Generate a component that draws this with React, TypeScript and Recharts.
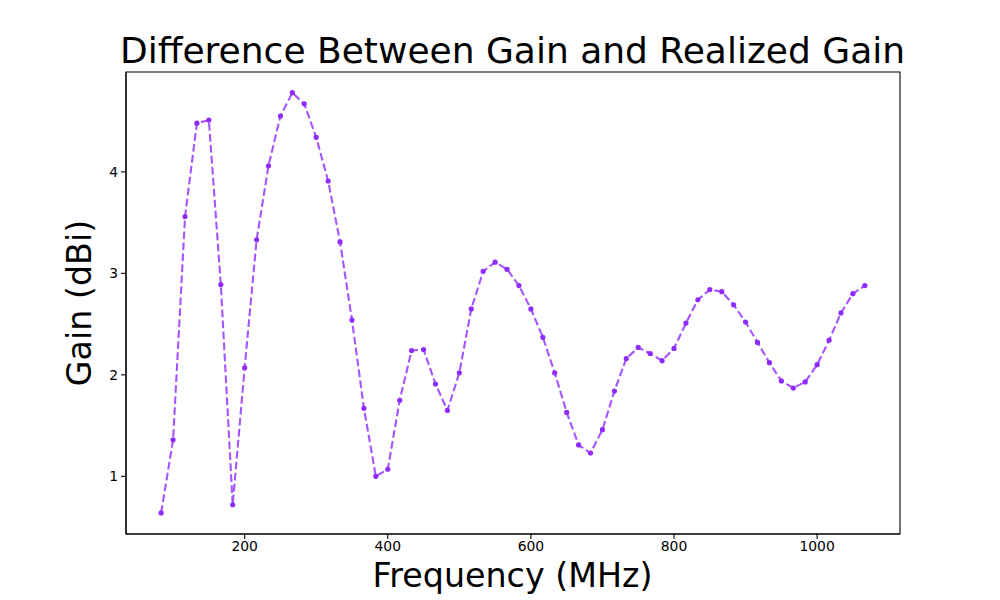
import { LineChart, Line, XAxis, YAxis, ReferenceArea } from "recharts";

// frequencies in MHz
const FREQS = [
  83.3, 100, 116.7, 133.3, 150, 166.7, 183.3, 200, 216.7, 233.3,
  250, 266.7, 283.3, 300, 316.7, 333.3, 350, 366.7, 383.3, 400,
  416.7, 433.3, 450, 466.7, 483.3, 500, 516.7, 533.3, 550, 566.7,
  583.3, 600, 616.7, 633.3, 650, 666.7, 683.3, 700, 716.7, 733.3,
  750, 766.7, 783.3, 800, 816.7, 833.3, 850, 866.7, 883.3, 900,
  916.7, 933.3, 950, 966.7, 983.3, 1000, 1016.7, 1033.3, 1050, 1066.7,
];

// gain difference (dBi)
const GAIN_DIFF = [
  0.64, 1.36, 3.56, 4.48, 4.51, 2.89, 0.72, 2.07, 3.33, 4.06,
  4.55, 4.78, 4.67, 4.34, 3.91, 3.31, 2.54, 1.67, 1.0, 1.07,
  1.75, 2.24, 2.25, 1.91, 1.65, 2.02, 2.65, 3.02, 3.11, 3.04,
  2.88, 2.65, 2.37, 2.02, 1.63, 1.31, 1.23, 1.46, 1.84, 2.16,
  2.27, 2.21, 2.14, 2.26, 2.51, 2.74, 2.84, 2.82, 2.69, 2.52,
  2.32, 2.12, 1.94, 1.87, 1.93, 2.1, 2.34, 2.61, 2.8, 2.88,
];

const X_TICKS = [200, 400, 600, 800, 1000];
const Y_TICKS = [1, 2, 3, 4];

const X_DOMAIN: [number, number] = [34.2, 1115.8];
const Y_DOMAIN: [number, number] = [0.432, 4.984];

const data = FREQS.map((f, i) => ({ freq: f, gain: GAIN_DIFF[i] }));

const FONT = "'DejaVu Sans', sans-serif";
const PURPLE = "#8f2bff";

export default function App() {
  return (
    <div
      style={{
        position: "absolute",
        left: 0,
        top: 0,
        width: 1000,
        height: 600,
        background: "#fff",
        fontFamily: FONT,
      }}
    >
      <div
        style={{
          position: "absolute",
          left: 0,
          width: 1025,
          top: 31,
          textAlign: "center",
          fontSize: 36,
          lineHeight: "40px",
          color: "#000",
          whiteSpace: "nowrap",
        }}
      >
        Difference Between Gain and Realized Gain
      </div>
      <LineChart
        width={1000}
        height={600}
        data={data}
        margin={{ top: 72, right: 100, bottom: 0, left: 0 }}
        style={{ fontFamily: FONT }}
      >
        <XAxis
          dataKey="freq"
          type="number"
          domain={X_DOMAIN}
          ticks={X_TICKS}
          height={66}
          tickSize={5}
          tickMargin={2}
          stroke="#000"
          tick={{ fontSize: 13.9, fill: "#000" }}
          axisLine={{ stroke: "#000", strokeWidth: 1.1 }}
          tickLine={{ stroke: "#000", strokeWidth: 1.1 }}
          allowDataOverflow
        />
        <YAxis
          type="number"
          domain={Y_DOMAIN}
          ticks={Y_TICKS}
          width={126}
          tickSize={5}
          tickMargin={3}
          stroke="#000"
          tick={{ fontSize: 13.9, fill: "#000" }}
          axisLine={{ stroke: "#000", strokeWidth: 1.1 }}
          tickLine={{ stroke: "#000", strokeWidth: 1.1 }}
          allowDataOverflow
        />
        <ReferenceArea
          x1={X_DOMAIN[0]}
          x2={X_DOMAIN[1]}
          y1={Y_DOMAIN[0]}
          y2={Y_DOMAIN[1]}
          fill="none"
          stroke="#000"
          strokeWidth={1.1}
          fillOpacity={0}
        />
        <Line
          type="linear"
          dataKey="gain"
          stroke={PURPLE}
          strokeOpacity={0.8}
          strokeWidth={2.1}
          strokeDasharray="7.7 3.3"
          dot={{ r: 2.6, fill: PURPLE, stroke: "none" }}
          isAnimationActive={false}
        />
      </LineChart>
      <div
        style={{
          position: "absolute",
          left: 0,
          width: 1025,
          top: 556,
          textAlign: "center",
          fontSize: 33.3,
          lineHeight: "40px",
          color: "#000",
        }}
      >
        Frequency (MHz)
      </div>
      <div
        style={{
          position: "absolute",
          left: 80,
          top: 303,
          transform: "translate(-50%, -50%) rotate(-90deg)",
          fontSize: 33.3,
          lineHeight: "40px",
          whiteSpace: "nowrap",
          color: "#000",
        }}
      >
        Gain (dBi)
      </div>
    </div>
  );
}
